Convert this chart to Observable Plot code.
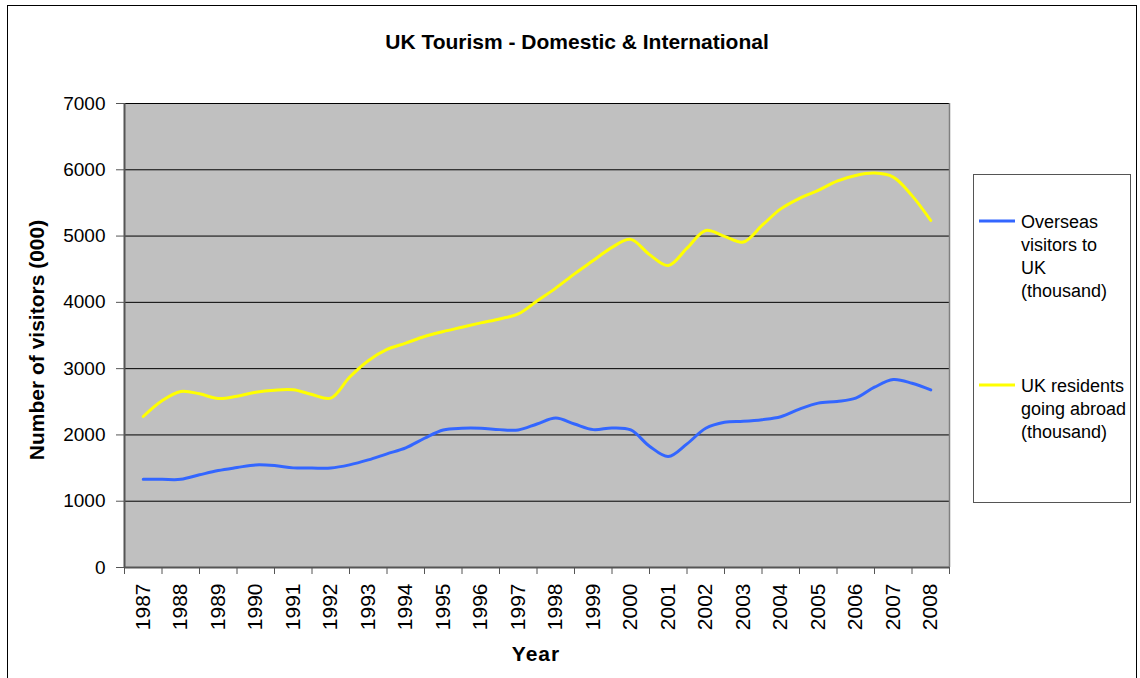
<!DOCTYPE html>
<html>
<head>
<meta charset="utf-8">
<script src="https://cdn.jsdelivr.net/npm/d3@7"></script>
<script src="https://cdn.jsdelivr.net/npm/@observablehq/plot@0.6"></script>
<style>
  body { margin: 0; background: #fff; font-family: "Liberation Sans", Arial, sans-serif; }
  #wrap { position: relative; width: 1140px; height: 678px; overflow: hidden; background: #fff; }
  #frame { position: absolute; left: 7px; top: 5px; width: 1130px; height: 720px; border: 1px solid #000; box-sizing: border-box; }
  #chart, #overlay { position: absolute; left: 0; top: 0; }
</style>
</head>
<body>
<div id="wrap">
  <div id="frame"></div>
  <div id="chart"></div>
  <svg id="overlay" width="1140" height="678" font-family="Liberation Sans, Arial, sans-serif"></svg>
</div>
<script>
// Half-year periods (decimal years)
const periods = [1987.0, 1987.5, 1988.0, 1988.5, 1989.0, 1989.5, 1990.0, 1990.5, 1991.0, 1991.5,
  1992.0, 1992.5, 1993.0, 1993.5, 1994.0, 1994.5, 1995.0, 1995.5, 1996.0, 1996.5,
  1997.0, 1997.5, 1998.0, 1998.5, 1999.0, 1999.5, 2000.0, 2000.5, 2001.0, 2001.5,
  2002.0, 2002.5, 2003.0, 2003.5, 2004.0, 2004.5, 2005.0, 2005.5, 2006.0, 2006.5,
  2007.0, 2007.5, 2008.0];

// Overseas visitors to UK (thousand)
const overseas = [1330, 1330, 1330, 1398, 1463, 1508, 1548, 1538, 1503, 1500,
  1500, 1548, 1623, 1715, 1805, 1950, 2075, 2100, 2100, 2080,
  2075, 2165, 2255, 2165, 2080, 2105, 2075, 1830, 1675, 1865,
  2100, 2190, 2205, 2230, 2275, 2390, 2480, 2505, 2555, 2720,
  2835, 2780, 2680];

// UK residents going abroad (thousand)
const residents = [2278, 2515, 2655, 2620, 2550, 2585, 2645, 2675, 2680, 2610,
  2555, 2870, 3120, 3290, 3385, 3485, 3560, 3625, 3690, 3750,
  3825, 4020, 4215, 4430, 4630, 4830, 4950, 4720, 4555, 4817,
  5085, 4995, 4910, 5160, 5410, 5570, 5690, 5830, 5915, 5950,
  5890, 5610, 5235];

// Year tick labels and category boundaries
const yearTicks = [1987, 1988, 1989, 1990, 1991, 1992, 1993, 1994, 1995, 1996, 1997,
  1998, 1999, 2000, 2001, 2002, 2003, 2004, 2005, 2006, 2007, 2008];
const yearBounds = [1986.5, 1987.5, 1988.5, 1989.5, 1990.5, 1991.5, 1992.5, 1993.5, 1994.5,
  1995.5, 1996.5, 1997.5, 1998.5, 1999.5, 2000.5, 2001.5, 2002.5, 2003.5, 2004.5,
  2005.5, 2006.5, 2007.5, 2008.5];
const yTicks = [0, 1000, 2000, 3000, 4000, 5000, 6000, 7000];
const gridTicks = [1000, 2000, 3000, 4000, 5000, 6000, 7000];

const seriesNames = ["Overseas visitors to UK (thousand)", "UK residents going abroad (thousand)"];
const seriesColors = ["#3366FF", "#FFFF00"];

const rows = periods.map((t, i) => ({ t, overseas: overseas[i], residents: residents[i] }));

const chart = Plot.plot({
  width: 1140,
  height: 678,
  marginLeft: 124,
  marginRight: 191,
  marginTop: 103,
  marginBottom: 111,
  style: { background: "transparent", color: "#000", fontFamily: "Liberation Sans, Arial, sans-serif", overflow: "visible" },
  x: { type: "linear", domain: [1986.5, 2008.5] },
  y: { domain: [0, 7000] },
  marks: [
    Plot.frame({ fill: "#C0C0C0", stroke: null }),
    Plot.gridY(gridTicks, { stroke: "#000", strokeOpacity: 1, strokeWidth: 1 }),
    Plot.ruleX([2008.5], { stroke: "#808080", strokeWidth: 1.5 }),
    Plot.axisY(yTicks, { tickSize: 8, tickPadding: 11, fontSize: 19, stroke: "#555", label: null, tickFormat: d => String(d) }),
    Plot.axisX(yearBounds, { tickSize: 7, tickFormat: () => "", stroke: "#555", label: null }),
    Plot.axisX(yearTicks, { tickSize: 0, tickRotate: -90, tickPadding: 16, fontSize: 21, label: null, tickFormat: d => String(d) }),
    Plot.ruleY([0], { stroke: "#555", strokeWidth: 2 }),
    Plot.ruleX([1986.5], { stroke: "#555", strokeWidth: 2 }),
    Plot.line(rows, { x: "t", y: "residents", stroke: seriesColors[1], strokeWidth: 3, curve: "catmull-rom" }),
    Plot.line(rows, { x: "t", y: "overseas", stroke: seriesColors[0], strokeWidth: 3, curve: "catmull-rom" })
  ]
});
document.getElementById("chart").appendChild(chart);

// Overlay texts: title, axis titles, legend
const ov = d3.select("#overlay");
ov.append("text").attr("x", 577).attr("y", 49).attr("text-anchor", "middle")
  .attr("font-weight", "bold").attr("font-size", 21).text("UK Tourism - Domestic & International");
ov.append("text").attr("transform", "translate(44,340) rotate(-90)").attr("text-anchor", "middle")
  .attr("font-weight", "bold").attr("font-size", 21).text("Number of visitors (000)");
ov.append("text").attr("x", 536).attr("y", 661).attr("text-anchor", "middle")
  .attr("font-weight", "bold").attr("font-size", 21).attr("letter-spacing", 1).text("Year");

// Legend
ov.append("rect").attr("x", 973.5).attr("y", 174.5).attr("width", 157).attr("height", 328)
  .attr("fill", "#fff").attr("stroke", "#555").attr("stroke-width", 1);
const legendLines = [
  ["Overseas", "visitors to", "UK", "(thousand)"],
  ["UK residents", "going abroad", "(thousand)"]
];
const legendY = [221, 385];
legendLines.forEach((lines, k) => {
  ov.append("line").attr("x1", 979).attr("x2", 1015).attr("y1", legendY[k]).attr("y2", legendY[k])
    .attr("stroke", seriesColors[k]).attr("stroke-width", 3);
  lines.forEach((s, j) => {
    ov.append("text").attr("x", 1021).attr("y", legendY[k] + 6.5 + j * 23)
      .attr("font-size", 18).attr("fill", "#000").text(s);
  });
});
</script>
</body>
</html>
